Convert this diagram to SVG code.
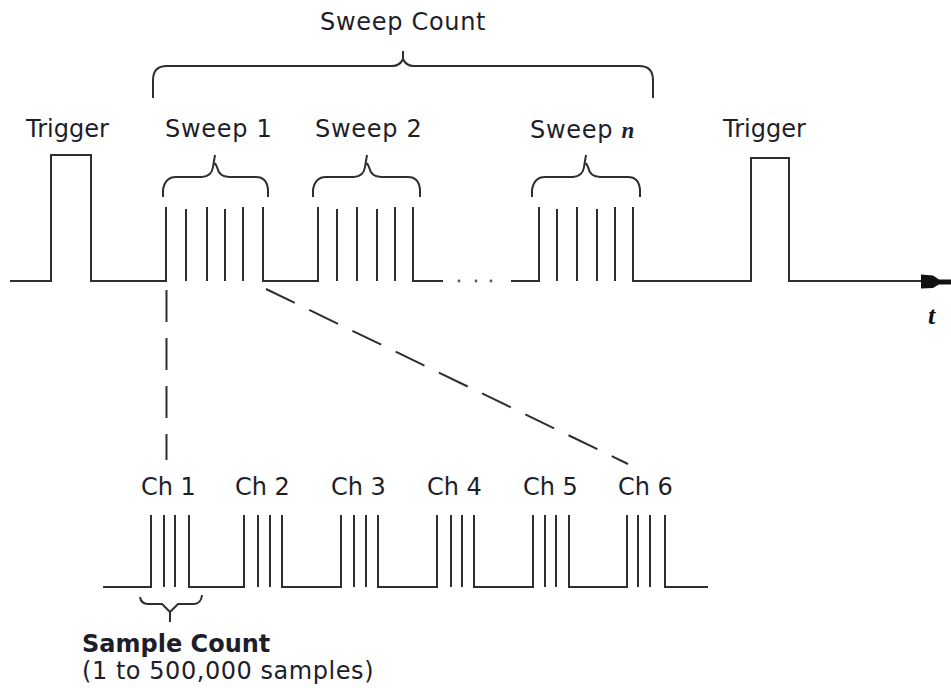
<svg xmlns="http://www.w3.org/2000/svg" width="951" height="688" viewBox="0 0 951 688">
  <style>
    .sig { fill: none; stroke: #2e2e2e; stroke-width: 2; stroke-linejoin: miter; }
    .brace { fill: none; stroke: #2e2e2e; stroke-width: 2; stroke-linejoin: round; }
    .dash { fill: none; stroke: #2e2e2e; stroke-width: 2; stroke-dasharray: 32 16; }
    .lbl { font-family: "DejaVu Sans", Verdana, sans-serif; font-size: 24px; fill: #1e1e2a; }
    .sw { letter-spacing: 0.7px; }
    .var { font-family: "Liberation Serif", "Times New Roman", serif; font-weight: bold; font-style: italic; }
  </style>
  <rect width="951" height="688" fill="#ffffff"/>

  <!-- main time axis with triggers and sweep bursts -->
  <g id="axis">
    <path class="sig" d="M10,281 H51 V155 H91 V281 H166 V207 M166,207 V281 M263,207 V281 H318 V207 M413,207 V281 H443"/>
    <path class="sig" d="M511,281 H539 V207 M633,207 V281 H751 V158 H789 V281 H924"/>
    <!-- sweep 1 samples -->
    <path class="sig" d="M186,209 V281 M207,207 V281 M225,209 V281 M243,207 V281"/>
    <!-- sweep 2 samples -->
    <path class="sig" d="M337,209 V281 M357,207 V281 M377,209 V281 M395,207 V281"/>
    <!-- sweep n samples -->
    <path class="sig" d="M557,209 V281 M577,207 V281 M597,209 V281 M615,207 V281"/>
    <!-- ellipsis between sweeps -->
    <g fill="#555">
      <circle cx="459" cy="281" r="1.4"/>
      <circle cx="476" cy="281" r="1.4"/>
      <circle cx="491" cy="281" r="1.4"/>
    </g>
    <!-- arrow tip -->
    <path d="M921,274.5 L933,275.5 L939,279.5 L951,279.5 L951,284.5 L939,284.5 L933,288 L921,288.5 Z" fill="#111"/>
    <text class="var" x="928" y="324" font-size="26" fill="#111">t</text>
  </g>

  <!-- braces -->
  <g id="brace-sweep-count">
    <path class="brace" d="M153,98 V80 Q153,66 167,66 H392 Q400,66 403,59 V51 M403,59 Q406,66 414,66 H639 Q653,66 653,80 V98"/>
    <text class="lbl sw" x="320" y="30">Sweep Count</text>
  </g>

  <g id="sweep-1">
    <path class="brace" d="M163,197 V190 Q165,177 176,177 H202 Q212,176 213,167 L215,155 M215,163 L217,167 Q219,177 229,177 H256 Q267,177 268,190 V197"/>
    <text class="lbl sw" x="165" y="137">Sweep 1</text>
  </g>

  <g id="sweep-2">
    <path class="brace" d="M313,197 V190 Q315,177 326,177 H354 Q364,176 365,167 L367,155 M367,163 L369,167 Q371,177 381,177 H408 Q419,177 420,190 V197"/>
    <text class="lbl sw" x="315" y="137">Sweep 2</text>
  </g>

  <g id="sweep-n">
    <path class="brace" d="M532,197 V190 Q534,177 545,177 H573 Q583,176 584,167 L586,155 M586,163 L588,167 Q590,177 600,177 H628 Q639,177 640,190 V197"/>
    <text class="lbl sw" x="530" y="138">Sweep <tspan class="var" font-size="23">n</tspan></text>
  </g>

  <g id="trigger-1">
    <text class="lbl" x="26" y="137">Trigger</text>
  </g>
  <g id="trigger-2">
    <text class="lbl" x="723" y="137">Trigger</text>
  </g>

  <!-- zoom guides from sweep 1 to the channel detail -->
  <g id="connectors">
    <line class="dash" x1="166.5" y1="290" x2="166.5" y2="460"/>
    <line class="dash" x1="266" y1="289" x2="628" y2="464"/>
  </g>

  <!-- channel detail of one sweep -->
  <g id="channels">
    <path class="sig" d="M103,587 H151 V515 M189,515 V587 H244 V515 M282,515 V587 H341 V515 M378,515 V587 H437 V515 M474,515 V587 H533 V515 M569,515 V587 H627 V515 M665,515 V587 H708"/>
    <path class="sig" d="M164,515 V587 M175,515 V587 M258,515 V587 M270,515 V587 M354,515 V587 M366,515 V587 M451,515 V587 M462,515 V587 M545,515 V587 M556,515 V587 M638,515 V587 M650,515 V587"/>
    <text class="lbl" x="141" y="495">Ch 1</text>
    <text class="lbl" x="235" y="495">Ch 2</text>
    <text class="lbl" x="331" y="495">Ch 3</text>
    <text class="lbl" x="427" y="495">Ch 4</text>
    <text class="lbl" x="523" y="495">Ch 5</text>
    <text class="lbl" x="618" y="495">Ch 6</text>
  </g>

  <g id="sample-count">
    <path class="brace" d="M140,597 Q141,604 148,604 H162 L170,612 V622 M170,612 L178,604 H194 Q201,604 202,595"/>
    <text class="lbl" x="82" y="652" font-weight="bold" font-size="22">Sample Count</text>
    <text class="lbl" x="82" y="679" font-size="23" letter-spacing="0.55">(1 to 500,000 samples)</text>
  </g>
</svg>
